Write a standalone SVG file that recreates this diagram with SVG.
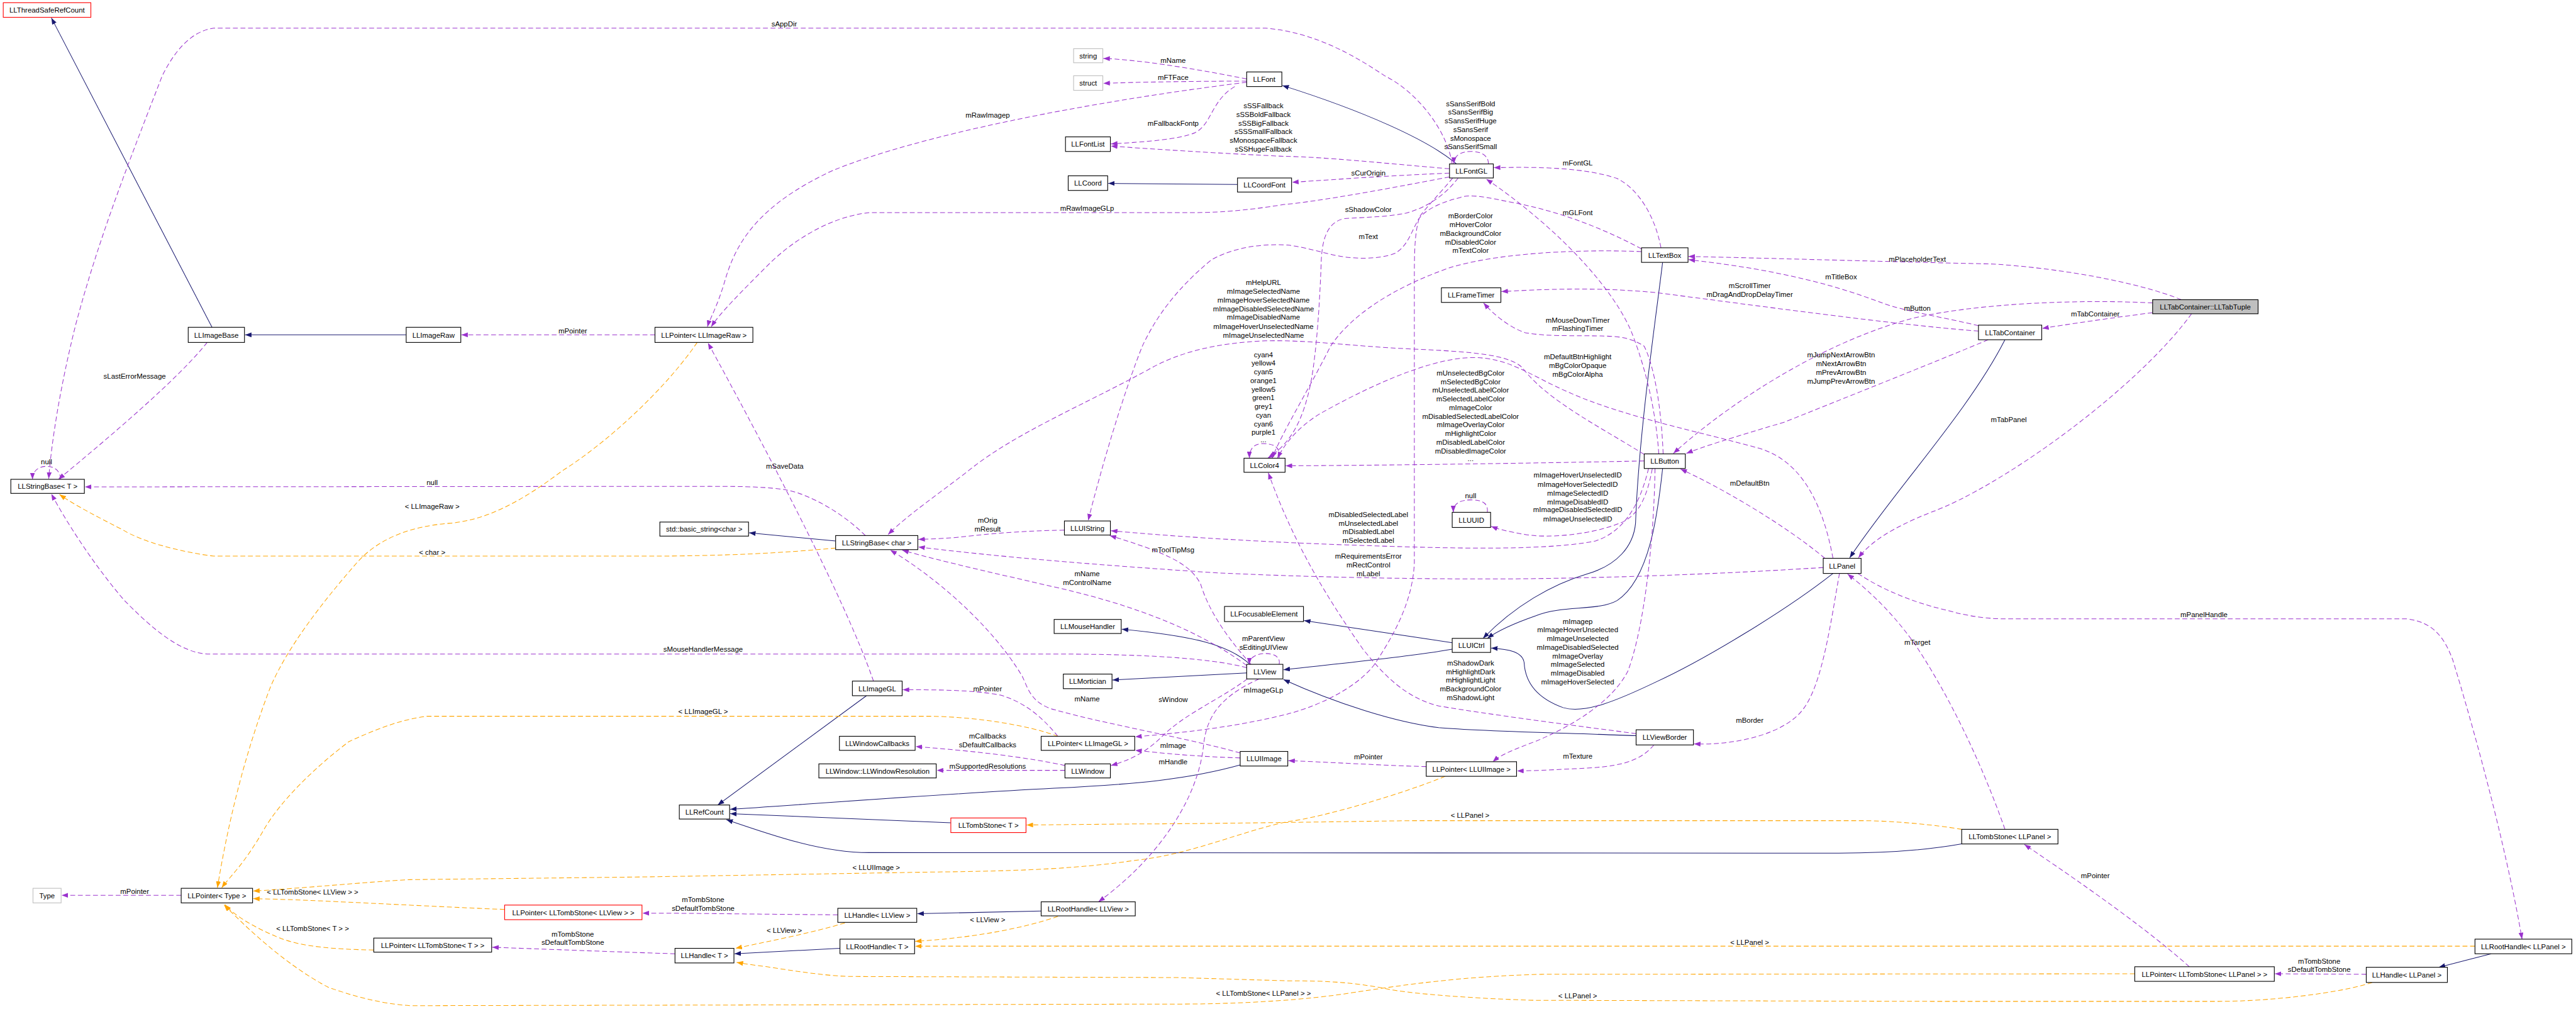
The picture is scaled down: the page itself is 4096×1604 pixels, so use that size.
<svg xmlns="http://www.w3.org/2000/svg" width="4096" height="1604" viewBox="0 0 4096 1604">
<defs>
<style>
.nd rect{fill:#ffffff;stroke:#000000;stroke-width:1.3}
.nd.red rect{stroke:#ff0000}
.nd.gry rect{stroke:#bfbfbf}
.nd.cur rect{fill:#bfbfbf}
text{font-family:"Liberation Sans",Arial,sans-serif;font-size:13.3px;text-anchor:middle;fill:#000000}
.n{fill:none;stroke:#191970;stroke-width:1.2;marker-end:url(#an)}
.p{fill:none;stroke:#9a32cd;stroke-width:1.2;stroke-dasharray:9,5;marker-end:url(#ap)}
.o{fill:none;stroke:#ffa500;stroke-width:1.2;stroke-dasharray:9,5;marker-end:url(#ao)}
</style>
<marker id="an" viewBox="0 0 12 9" refX="12" refY="4.5" markerWidth="12" markerHeight="9" markerUnits="userSpaceOnUse" orient="auto"><path d="M0,0 L12,4.5 L0,9 z" fill="#191970"/></marker>
<marker id="ap" viewBox="0 0 12 9" refX="12" refY="4.5" markerWidth="12" markerHeight="9" markerUnits="userSpaceOnUse" orient="auto"><path d="M0,0 L12,4.5 L0,9 z" fill="#9a32cd"/></marker>
<marker id="ao" viewBox="0 0 12 9" refX="12" refY="4.5" markerWidth="12" markerHeight="9" markerUnits="userSpaceOnUse" orient="auto"><path d="M0,0 L12,4.5 L0,9 z" fill="#ffa500"/></marker>
</defs>
<rect x="0" y="0" width="4096" height="1604" fill="#ffffff"/>
<g transform="scale(0.86)">
<g id="connectors">
<!-- inheritance -->
<path class="n" d="M392,605 L95,33"/>
<path class="n" d="M751,619 L453,619"/>
<path class="n" d="M2693,303 C2640,258 2520,205 2371,158"/>
<path class="n" d="M2288,341 C2200,341 2120,339 2049,339"/>
<path class="n" d="M1545,1000 L1385,985"/>
<path class="n" d="M2311,1228 C2270,1190 2200,1175 2074,1163"/>
<path class="n" d="M2305,1244 L2057,1257"/>
<path class="n" d="M2685,1200 C2600,1215 2460,1228 2373,1238"/>
<path class="n" d="M2685,1188 L2411,1147"/>
<path class="n" d="M3074,866 C3065,950 3050,1070 2990,1110 C2955,1130 2890,1118 2840,1138 C2800,1152 2770,1165 2750,1180"/>
<path class="n" d="M3074,485 C3060,600 3030,800 3024,967 C3020,1010 2990,1045 2934,1061 C2870,1080 2800,1120 2742,1180"/>
<path class="n" d="M3025,1360 C2900,1355 2740,1352 2660,1345 C2580,1335 2470,1300 2373,1256"/>
<path class="n" d="M3389,1060 C3300,1130 3150,1220 3063,1260 C2990,1295 2930,1320 2890,1308 C2840,1290 2820,1260 2818,1225 C2815,1205 2790,1200 2757,1198"/>
<path class="n" d="M3707,628 C3640,760 3500,910 3420,1031"/>
<path class="n" d="M2293,1414 C2200,1440 2100,1450 1949,1457 C1700,1470 1450,1490 1350,1496"/>
<path class="n" d="M1758,1521 L1350,1504"/>
<path class="n" d="M1602,1286 L1327,1488"/>
<path class="n" d="M3627,1560 C3560,1572 3480,1577 3400,1577 L1607,1576 C1520,1576 1430,1545 1343,1515"/>
<path class="n" d="M1925,1684 L1696,1689"/>
<path class="n" d="M1553,1753 L1358,1763"/>
<path class="n" d="M4606,1763 L4509,1788"/>
<!-- usage -->
<path class="p" d="M2685,303 C2675,240 2620,170 2560,140 C2500,100 2430,60 2340,52 L395,52 C350,58 320,100 300,140 C230,320 180,450 140,600 C110,720 95,820 90,885"/>
<path class="p" d="M383,633 C330,700 200,810 108,886"/>
<path class="p" d="M112,886 C112,870 100,862 86,862 C70,862 60,872 60,886"/>
<path class="p" d="M1600,990 C1560,950 1500,915 1456,906 C1420,900 1380,899 1311,899 L157,900"/>
<path class="p" d="M2305,1234 C2250,1220 2150,1209 1949,1209 L387,1209 C330,1209 270,1150 230,1110 C170,1040 120,960 95,913"/>
<path class="p" d="M1211,619 L853,619"/>
<path class="p" d="M2305,152 C2000,190 1700,250 1540,315 C1400,380 1360,450 1340,520 C1325,570 1312,590 1308,604"/>
<path class="p" d="M2680,327 C2560,350 2440,372 2374,378 C2300,390 2250,393 2200,393 L1607,393 C1540,400 1470,440 1420,490 C1370,540 1330,580 1315,604"/>
<path class="p" d="M2305,146 C2200,125 2100,110 2040,108"/>
<path class="p" d="M2305,150 C2200,150 2100,152 2040,154"/>
<path class="p" d="M2283,160 C2240,185 2240,230 2210,245 C2180,258 2120,262 2054,266"/>
<path class="p" d="M2680,312 C2560,302 2450,290 2374,289 C2290,285 2177,279 2054,270"/>
<path class="p" d="M2680,320 C2560,325 2450,333 2389,337"/>
<path class="p" d="M2752,303 C2752,288 2740,280 2720,280 C2700,280 2688,288 2688,303"/>
<path class="p" d="M3071,458 C3060,400 3030,350 2990,330 C2930,310 2850,308 2762,310"/>
<path class="p" d="M3067,839 C3060,740 3035,660 3015,610 C2970,510 2850,400 2748,331"/>
<path class="p" d="M3035,460 C2960,420 2880,390 2800,375 C2750,365 2720,358 2700,365 C2660,375 2630,390 2620,410 C2605,440 2600,455 2580,468 C2550,480 2500,480 2460,470 C2420,460 2400,455 2380,453 C2330,450 2280,458 2240,480 C2180,530 2140,580 2112,640 C2080,720 2040,850 2012,962"/>
<path class="p" d="M2696,329 C2680,350 2650,380 2600,394 C2560,402 2510,402 2486,404 C2455,410 2445,440 2443,480 C2440,560 2435,640 2425,700 C2410,780 2385,820 2344,847"/>
<path class="p" d="M3035,465 C2900,460 2760,470 2680,495 C2580,530 2500,580 2460,640 C2420,720 2370,800 2352,847"/>
<path class="p" d="M3389,1032 C3370,930 3330,850 3250,828 C3150,800 3000,770 2900,725 C2830,695 2790,660 2721,661 C2640,662 2520,720 2440,765 C2400,790 2375,820 2362,847"/>
<path class="p" d="M3040,852 C2900,855 2600,860 2377,861"/>
<path class="p" d="M3040,840 C2960,790 2860,740 2815,680 C2790,655 2720,650 2608,645 C2500,640 2420,628 2340,630 C2250,634 2180,650 2120,685 C2000,750 1880,800 1797,865 C1740,910 1680,950 1642,988"/>
<path class="p" d="M3048,866 C3035,920 3010,980 2950,1000 C2850,1020 2650,1013 2456,1006 C2300,1000 2150,990 2054,981"/>
<path class="p" d="M3055,866 C3045,920 3030,950 3000,965 C2940,990 2860,995 2820,988 C2790,983 2770,978 2757,973"/>
<path class="p" d="M2750,947 C2752,930 2740,924 2720,924 C2700,924 2687,930 2687,947"/>
<path class="p" d="M3371,1049 C3200,1060 3000,1068 2800,1070 C2600,1071 2400,1066 2252,1059 C2050,1046 1850,1030 1698,1011"/>
<path class="p" d="M2305,1230 C2250,1190 2150,1130 1949,1085 C1850,1062 1750,1040 1668,1017"/>
<path class="p" d="M2313,1228 C2270,1180 2235,1130 2220,1080 C2200,1040 2150,1020 2052,990"/>
<path class="p" d="M2365,1228 C2368,1214 2355,1208 2340,1208 C2325,1208 2310,1214 2310,1228"/>
<path class="p" d="M1968,980 C1900,981 1850,985 1800,990 C1760,995 1730,996 1698,997"/>
<path class="p" d="M1615,1259 C1560,1100 1400,800 1309,634"/>
<path class="p" d="M1956,1361 C1930,1330 1900,1300 1850,1285 C1800,1275 1730,1275 1669,1275"/>
<path class="p" d="M2293,1392 C2200,1365 2050,1340 1950,1312 C1905,1300 1900,1270 1890,1250 C1830,1150 1720,1060 1646,1017"/>
<path class="p" d="M2293,1401 C2200,1398 2150,1392 2099,1387"/>
<path class="p" d="M2686,329 C2660,360 2640,380 2625,400 C2615,430 2615,470 2615,520 L2615,1040 C2612,1110 2580,1170 2540,1230 C2500,1280 2420,1310 2380,1320 C2280,1345 2180,1355 2099,1362"/>
<path class="p" d="M2306,1255 C2260,1290 2190,1320 2150,1360 C2120,1390 2090,1405 2054,1415"/>
<path class="p" d="M2328,1255 C2250,1290 2230,1330 2225,1380 C2215,1470 2150,1580 2031,1667"/>
<path class="p" d="M1969,1415 C1900,1400 1800,1388 1693,1380"/>
<path class="p" d="M1969,1424 L1732,1424"/>
<path class="p" d="M2637,1417 C2560,1415 2480,1410 2382,1406"/>
<path class="p" d="M3058,1377 C3030,1410 2990,1418 2911,1421 C2870,1423 2830,1425 2805,1425"/>
<path class="p" d="M3060,866 C3058,1000 3040,1160 3010,1240 C2980,1300 2900,1345 2840,1370 C2800,1385 2775,1395 2760,1408"/>
<path class="p" d="M3025,1356 C2900,1340 2750,1320 2660,1305 C2600,1290 2560,1250 2520,1200 C2450,1100 2390,1000 2345,874"/>
<path class="p" d="M3401,1060 C3385,1150 3370,1260 3336,1308 C3300,1360 3200,1378 3132,1375"/>
<path class="p" d="M3374,1032 C3300,970 3180,900 3107,867"/>
<path class="p" d="M3707,1533 C3660,1400 3600,1280 3540,1190 C3490,1120 3440,1080 3416,1061"/>
<path class="p" d="M3435,1060 C3480,1090 3540,1115 3600,1128 C3640,1140 3680,1144 3707,1144 L4450,1144 C4500,1150 4520,1180 4535,1220 C4590,1400 4640,1600 4663,1736"/>
<path class="p" d="M4048,1787 C3950,1700 3800,1600 3743,1561"/>
<path class="p" d="M4375,1801 L4206,1800"/>
<path class="p" d="M1549,1691 C1400,1690 1300,1688 1188,1688"/>
<path class="p" d="M1248,1763 C1150,1760 1050,1756 910,1751"/>
<path class="p" d="M335,1655 L114,1655"/>
<path class="p" d="M4033,554 C3950,520 3800,495 3684,488 C3500,484 3300,478 3122,474"/>
<path class="p" d="M3980,560 C3850,553 3650,560 3530,590 C3350,640 3180,760 3094,838"/>
<path class="p" d="M3980,578 C3900,588 3820,600 3776,607"/>
<path class="p" d="M4052,580 C3950,720 3700,900 3570,947 C3500,975 3460,1000 3436,1031"/>
<path class="p" d="M3658,602 C3600,588 3520,575 3480,560 C3400,530 3300,500 3122,480"/>
<path class="p" d="M3658,612 C3500,600 3250,565 3063,541 C2950,530 2850,535 2776,539"/>
<path class="p" d="M3676,628 C3600,660 3450,720 3300,780 C3200,810 3150,825 3118,838"/>
<path class="p" d="M3075,839 C3072,760 3060,680 3040,640 C3010,620 2980,622 2960,621 C2900,620 2860,622 2820,615 C2790,605 2760,580 2743,560"/>
<path class="p" d="M2365,847 C2368,826 2355,820 2335,820 C2318,820 2310,830 2310,847"/>
<!-- template instances -->
<path class="o" d="M1289,633 C1230,720 1120,820 1040,870 C960,930 900,960 835,967 C760,972 700,995 660,1040 C590,1120 530,1200 500,1270 C450,1400 420,1530 402,1641"/>
<path class="o" d="M1545,1013 C1450,1022 1340,1028 1190,1028 L395,1028 C330,1020 260,1000 228,980 C180,955 140,935 110,914"/>
<path class="o" d="M1956,1361 C1900,1340 1800,1325 1721,1324 L789,1324 C740,1330 690,1350 645,1371 C580,1420 520,1480 490,1530 C450,1600 425,1620 410,1641"/>
<path class="o" d="M933,1681 C850,1678 700,1670 607,1666 C550,1663 500,1662 468,1661"/>
<path class="o" d="M2672,1435 C2600,1465 2450,1510 2380,1519 C2300,1535 2200,1580 2101,1590 C2000,1605 1900,1610 1721,1612 L1190,1621 L759,1626 C680,1630 560,1642 468,1647"/>
<path class="o" d="M691,1756 C620,1755 560,1750 520,1735 C470,1715 430,1690 416,1672"/>
<path class="o" d="M3947,1800 L2850,1801 C2700,1805 2600,1820 2500,1835 C2420,1848 2300,1856 2177,1856 L759,1859 C700,1855 650,1840 607,1825 C540,1790 470,1730 414,1672"/>
<path class="o" d="M3627,1533 C3580,1525 3500,1517 3442,1517 L2608,1517 C2400,1520 2200,1523 2101,1523 L1898,1525"/>
<path class="o" d="M1562,1706 C1500,1725 1420,1740 1360,1753"/>
<path class="o" d="M1956,1694 C1880,1720 1780,1735 1692,1740"/>
<path class="o" d="M4576,1749 L1692,1749"/>
<path class="o" d="M4386,1816 C4330,1835 4200,1851 4101,1851 L3570,1851 L2835,1849 C2700,1845 2600,1835 2570,1829 C2500,1815 2450,1813 2380,1813 L2177,1807 L1569,1805 C1520,1803 1470,1795 1418,1787 C1400,1785 1380,1782 1362,1779"/>
</g>
<g id="edge-labels">
<text x="1450" y="49">sAppDir</text>
<text x="2169" y="116">mName</text>
<text x="2169" y="148">mFTFace</text>
<text x="1826" y="218">mRawImagep</text>
<text x="2169" y="232">mFallbackFontp</text>
<text x="2336" y="200">sSSFallback</text>
<text x="2336" y="216">sSSBoldFallback</text>
<text x="2336" y="232">sSSBigFallback</text>
<text x="2336" y="248">sSSSmallFallback</text>
<text x="2336" y="264">sMonospaceFallback</text>
<text x="2336" y="280">sSSHugeFallback</text>
<text x="2719" y="196">sSansSerifBold</text>
<text x="2719" y="212">sSansSerifBig</text>
<text x="2719" y="228">sSansSerifHuge</text>
<text x="2719" y="244">sSansSerif</text>
<text x="2719" y="260">sMonospace</text>
<text x="2719" y="276">sSansSerifSmall</text>
<text x="2917" y="306">mFontGL</text>
<text x="2530" y="324">sCurOrigin</text>
<text x="2010" y="389">mRawImageGLp</text>
<text x="2530" y="392">sShadowColor</text>
<text x="2917" y="398">mGLFont</text>
<text x="2530" y="442">mText</text>
<text x="2719" y="404">mBorderColor</text>
<text x="2719" y="420">mHoverColor</text>
<text x="2719" y="436">mBackgroundColor</text>
<text x="2719" y="452">mDisabledColor</text>
<text x="2719" y="468">mTextColor</text>
<text x="3545" y="484">mPlaceholderText</text>
<text x="3404" y="516">mTitleBox</text>
<text x="3235" y="533">mScrollTimer</text>
<text x="3235" y="549">mDragAndDropDelayTimer</text>
<text x="3545" y="574">mButton</text>
<text x="3874" y="585">mTabContainer</text>
<text x="2917" y="596">mMouseDownTimer</text>
<text x="2917" y="612">mFlashingTimer</text>
<text x="2336" y="527">mHelpURL</text>
<text x="2336" y="543">mImageSelectedName</text>
<text x="2336" y="559">mImageHoverSelectedName</text>
<text x="2336" y="575">mImageDisabledSelectedName</text>
<text x="2336" y="591">mImageDisabledName</text>
<text x="2336" y="608">mImageHoverUnselectedName</text>
<text x="2336" y="624">mImageUnselectedName</text>
<text x="1059" y="616">mPointer</text>
<text x="249" y="700">sLastErrorMessage</text>
<text x="2336" y="660">cyan4</text>
<text x="2336" y="676">yellow4</text>
<text x="2336" y="692">cyan5</text>
<text x="2336" y="708">orange1</text>
<text x="2336" y="724">yellow5</text>
<text x="2336" y="740">green1</text>
<text x="2336" y="756">grey1</text>
<text x="2336" y="772">cyan</text>
<text x="2336" y="788">cyan6</text>
<text x="2336" y="804">purple1</text>
<text x="2336" y="818">...</text>
<text x="2917" y="664">mDefaultBtnHighlight</text>
<text x="2917" y="680">mBgColorOpaque</text>
<text x="2917" y="696">mBgColorAlpha</text>
<text x="3404" y="661">mJumpNextArrowBtn</text>
<text x="3404" y="677">mNextArrowBtn</text>
<text x="3404" y="693">mPrevArrowBtn</text>
<text x="3404" y="709">mJumpPrevArrowBtn</text>
<text x="2719" y="694">mUnselectedBgColor</text>
<text x="2719" y="710">mSelectedBgColor</text>
<text x="2719" y="726">mUnselectedLabelColor</text>
<text x="2719" y="742">mSelectedLabelColor</text>
<text x="2719" y="758">mImageColor</text>
<text x="2719" y="774">mDisabledSelectedLabelColor</text>
<text x="2719" y="790">mImageOverlayColor</text>
<text x="2719" y="806">mHighlightColor</text>
<text x="2719" y="822">mDisabledLabelColor</text>
<text x="2719" y="838">mDisabledImageColor</text>
<text x="2719" y="852">...</text>
<text x="3714" y="780">mTabPanel</text>
<text x="86" y="858">null</text>
<text x="1451" y="866">mSaveData</text>
<text x="799" y="896">null</text>
<text x="3235" y="898">mDefaultBtn</text>
<text x="2719" y="921">null</text>
<text x="2917" y="883">mImageHoverUnselectedID</text>
<text x="2917" y="900">mImageHoverSelectedID</text>
<text x="2917" y="916">mImageSelectedID</text>
<text x="2917" y="932">mImageDisabledID</text>
<text x="2917" y="947">mImageDisabledSelectedID</text>
<text x="2917" y="964">mImageUnselectedID</text>
<text x="799" y="941">&lt; LLImageRaw &gt;</text>
<text x="2530" y="956">mDisabledSelectedLabel</text>
<text x="2530" y="972">mUnselectedLabel</text>
<text x="2530" y="987">mDisabledLabel</text>
<text x="2530" y="1004">mSelectedLabel</text>
<text x="1826" y="966">mOrig</text>
<text x="1826" y="982">mResult</text>
<text x="2169" y="1021">mToolTipMsg</text>
<text x="799" y="1025">&lt; char &gt;</text>
<text x="2530" y="1033">mRequirementsError</text>
<text x="2530" y="1049">mRectControl</text>
<text x="2530" y="1065">mLabel</text>
<text x="2010" y="1065">mName</text>
<text x="2010" y="1081">mControlName</text>
<text x="4075" y="1141">mPanelHandle</text>
<text x="3545" y="1192">mTarget</text>
<text x="2336" y="1185">mParentView</text>
<text x="2336" y="1201">sEditingUIView</text>
<text x="1300" y="1205">sMouseHandlerMessage</text>
<text x="2917" y="1153">mImagep</text>
<text x="2917" y="1169">mImageHoverUnselected</text>
<text x="2917" y="1185">mImageUnselected</text>
<text x="2917" y="1201">mImageDisabledSelected</text>
<text x="2917" y="1217">mImageOverlay</text>
<text x="2917" y="1233">mImageSelected</text>
<text x="2917" y="1249">mImageDisabled</text>
<text x="2917" y="1265">mImageHoverSelected</text>
<text x="2719" y="1230">mShadowDark</text>
<text x="2719" y="1246">mHighlightDark</text>
<text x="2719" y="1262">mHighlightLight</text>
<text x="2719" y="1278">mBackgroundColor</text>
<text x="2719" y="1294">mShadowLight</text>
<text x="1826" y="1278">mPointer</text>
<text x="2336" y="1280">mImageGLp</text>
<text x="2010" y="1297">mName</text>
<text x="2169" y="1298">sWindow</text>
<text x="1300" y="1320">&lt; LLImageGL &gt;</text>
<text x="3235" y="1336">mBorder</text>
<text x="1826" y="1365">mCallbacks</text>
<text x="1826" y="1381">sDefaultCallbacks</text>
<text x="2169" y="1382">mImage</text>
<text x="2917" y="1402">mTexture</text>
<text x="2530" y="1404">mPointer</text>
<text x="2169" y="1413">mHandle</text>
<text x="1826" y="1421">mSupportedResolutions</text>
<text x="2718" y="1512">&lt; LLPanel &gt;</text>
<text x="1620" y="1608">&lt; LLUIImage &gt;</text>
<text x="3874" y="1623">mPointer</text>
<text x="249" y="1652">mPointer</text>
<text x="578" y="1654">&lt; LLTombStone&lt; LLView &gt; &gt;</text>
<text x="1300" y="1668">mTombStone</text>
<text x="1300" y="1684">sDefaultTombStone</text>
<text x="1826" y="1705">&lt; LLView &gt;</text>
<text x="578" y="1721">&lt; LLTombStone&lt; T &gt; &gt;</text>
<text x="1450" y="1724">&lt; LLView &gt;</text>
<text x="1059" y="1731">mTombStone</text>
<text x="1059" y="1747">sDefaultTombStone</text>
<text x="3235" y="1746">&lt; LLPanel &gt;</text>
<text x="4288" y="1781">mTombStone</text>
<text x="4288" y="1797">sDefaultTombStone</text>
<text x="2336" y="1841">&lt; LLTombStone&lt; LLPanel &gt; &gt;</text>
<text x="2917" y="1845">&lt; LLPanel &gt;</text>
</g>
<g id="n_LLThreadSafeRefCount" class="nd red"><rect x="6" y="5" width="162" height="27"/><text x="87" y="23.5">LLThreadSafeRefCount</text></g>
<g id="n_LLImageBase" class="nd"><rect x="348" y="605" width="104" height="28"/><text x="400" y="624">LLImageBase</text></g>
<g id="n_LLImageRaw" class="nd"><rect x="751" y="605" width="101" height="28"/><text x="801.5" y="624">LLImageRaw</text></g>
<g id="n_LLPointer_LLImageRaw" class="nd"><rect x="1211" y="605" width="181" height="28"/><text x="1301.5" y="624">LLPointer&lt; LLImageRaw &gt;</text></g>
<g id="n_LLStringBase_T" class="nd"><rect x="20" y="886" width="136" height="26"/><text x="88" y="904">LLStringBase&lt; T &gt;</text></g>
<g id="n_string" class="nd gry"><rect x="1985" y="90" width="54" height="26"/><text x="2012" y="108">string</text></g>
<g id="n_struct" class="nd gry"><rect x="1985" y="140" width="54" height="27"/><text x="2012" y="158.5">struct</text></g>
<g id="n_LLFont" class="nd"><rect x="2305" y="133" width="65" height="27"/><text x="2337.5" y="151.5">LLFont</text></g>
<g id="n_LLFontList" class="nd"><rect x="1970" y="253" width="83" height="27"/><text x="2011.5" y="271.5">LLFontList</text></g>
<g id="n_LLCoord" class="nd"><rect x="1975" y="325" width="73" height="27"/><text x="2011.5" y="343.5">LLCoord</text></g>
<g id="n_LLCoordFont" class="nd"><rect x="2288" y="329" width="100" height="26"/><text x="2338" y="347">LLCoordFont</text></g>
<g id="n_LLFontGL" class="nd"><rect x="2680" y="303" width="81" height="26"/><text x="2720.5" y="321">LLFontGL</text></g>
<g id="n_LLTextBox" class="nd"><rect x="3035" y="458" width="86" height="27"/><text x="3078" y="476.5">LLTextBox</text></g>
<g id="n_LLFrameTimer" class="nd"><rect x="2665" y="532" width="110" height="27"/><text x="2720" y="550.5">LLFrameTimer</text></g>
<g id="n_LLTabTuple" class="nd cur"><rect x="3980" y="554" width="195" height="26"/><text x="4077.5" y="572">LLTabContainer::LLTabTuple</text></g>
<g id="n_LLTabContainer" class="nd"><rect x="3658" y="601" width="117" height="27"/><text x="3716.5" y="619.5">LLTabContainer</text></g>
<g id="n_LLColor4" class="nd"><rect x="2300" y="847" width="76" height="26"/><text x="2338" y="865">LLColor4</text></g>
<g id="n_std_basic_string" class="nd"><rect x="1220" y="965" width="164" height="26"/><text x="1302" y="983">std::basic_string&lt;char &gt;</text></g>
<g id="n_LLStringBase_char" class="nd"><rect x="1545" y="990" width="152" height="26"/><text x="1621" y="1008">LLStringBase&lt; char &gt;</text></g>
<g id="n_LLUIString" class="nd"><rect x="1968" y="963" width="85" height="26"/><text x="2010.5" y="981">LLUIString</text></g>
<g id="n_LLButton" class="nd"><rect x="3040" y="839" width="76" height="27"/><text x="3078" y="857.5">LLButton</text></g>
<g id="n_LLUUID" class="nd"><rect x="2685" y="947" width="71" height="28"/><text x="2720.5" y="966">LLUUID</text></g>
<g id="n_LLPanel" class="nd"><rect x="3371" y="1032" width="70" height="28"/><text x="3406" y="1051">LLPanel</text></g>
<g id="n_LLFocusableElement" class="nd"><rect x="2264" y="1121" width="146" height="28"/><text x="2337" y="1140">LLFocusableElement</text></g>
<g id="n_LLMouseHandler" class="nd"><rect x="1949" y="1145" width="124" height="26"/><text x="2011" y="1163">LLMouseHandler</text></g>
<g id="n_LLUICtrl" class="nd"><rect x="2685" y="1180" width="71" height="26"/><text x="2720.5" y="1198">LLUICtrl</text></g>
<g id="n_LLView" class="nd"><rect x="2305" y="1228" width="67" height="27"/><text x="2338.5" y="1246.5">LLView</text></g>
<g id="n_LLMortician" class="nd"><rect x="1966" y="1246" width="90" height="27"/><text x="2011" y="1264.5">LLMortician</text></g>
<g id="n_LLImageGL" class="nd"><rect x="1576" y="1259" width="92" height="27"/><text x="1622" y="1277.5">LLImageGL</text></g>
<g id="n_LLWindowCallbacks" class="nd"><rect x="1552" y="1361" width="140" height="26"/><text x="1622" y="1379">LLWindowCallbacks</text></g>
<g id="n_LLPointer_LLImageGL" class="nd"><rect x="1925" y="1361" width="173" height="26"/><text x="2011.5" y="1379">LLPointer&lt; LLImageGL &gt;</text></g>
<g id="n_LLUIImage" class="nd"><rect x="2293" y="1389" width="88" height="27"/><text x="2337" y="1407.5">LLUIImage</text></g>
<g id="n_LLWindowResolution" class="nd"><rect x="1514" y="1412" width="217" height="26"/><text x="1622.5" y="1430">LLWindow::LLWindowResolution</text></g>
<g id="n_LLWindow" class="nd"><rect x="1969" y="1412" width="84" height="26"/><text x="2011" y="1430">LLWindow</text></g>
<g id="n_LLRefCount" class="nd"><rect x="1256" y="1488" width="93" height="26"/><text x="1302.5" y="1506">LLRefCount</text></g>
<g id="n_LLTombStone_T" class="nd red"><rect x="1758" y="1512" width="139" height="27"/><text x="1827.5" y="1530.5">LLTombStone&lt; T &gt;</text></g>
<g id="n_LLHandle_LLView" class="nd"><rect x="1549" y="1679" width="146" height="26"/><text x="1622" y="1697">LLHandle&lt; LLView &gt;</text></g>
<g id="n_LLRootHandle_LLView" class="nd"><rect x="1925" y="1667" width="174" height="26"/><text x="2012" y="1685">LLRootHandle&lt; LLView &gt;</text></g>
<g id="n_LLRootHandle_T" class="nd"><rect x="1553" y="1736" width="138" height="27"/><text x="1622" y="1754.5">LLRootHandle&lt; T &gt;</text></g>
<g id="n_LLHandle_T" class="nd"><rect x="1248" y="1753" width="109" height="27"/><text x="1302.5" y="1771.5">LLHandle&lt; T &gt;</text></g>
<g id="n_Type" class="nd gry"><rect x="61" y="1642" width="52" height="27"/><text x="87" y="1660.5">Type</text></g>
<g id="n_LLPointer_Type" class="nd"><rect x="335" y="1642" width="132" height="27"/><text x="401" y="1660.5">LLPointer&lt; Type &gt;</text></g>
<g id="n_LLPointer_LLTombStone_LLView" class="nd red"><rect x="933" y="1673" width="254" height="27"/><text x="1060" y="1691.5">LLPointer&lt; LLTombStone&lt; LLView &gt; &gt;</text></g>
<g id="n_LLPointer_LLTombStone_T" class="nd"><rect x="691" y="1734" width="218" height="26"/><text x="800" y="1752">LLPointer&lt; LLTombStone&lt; T &gt; &gt;</text></g>
<g id="n_LLViewBorder" class="nd"><rect x="3025" y="1349" width="106" height="28"/><text x="3078" y="1368">LLViewBorder</text></g>
<g id="n_LLPointer_LLUIImage" class="nd"><rect x="2637" y="1408" width="167" height="27"/><text x="2720.5" y="1426.5">LLPointer&lt; LLUIImage &gt;</text></g>
<g id="n_LLTombStone_LLPanel" class="nd"><rect x="3627" y="1533" width="178" height="27"/><text x="3716" y="1551.5">LLTombStone&lt; LLPanel &gt;</text></g>
<g id="n_LLRootHandle_LLPanel" class="nd"><rect x="4576" y="1736" width="179" height="27"/><text x="4665.5" y="1754.5">LLRootHandle&lt; LLPanel &gt;</text></g>
<g id="n_LLPointer_LLTombStone_LLPanel" class="nd"><rect x="3947" y="1787" width="258" height="27"/><text x="4076" y="1805.5">LLPointer&lt; LLTombStone&lt; LLPanel &gt; &gt;</text></g>
<g id="n_LLHandle_LLPanel" class="nd"><rect x="4375" y="1788" width="150" height="28"/><text x="4450" y="1807">LLHandle&lt; LLPanel &gt;</text></g>
</g>
</svg>
